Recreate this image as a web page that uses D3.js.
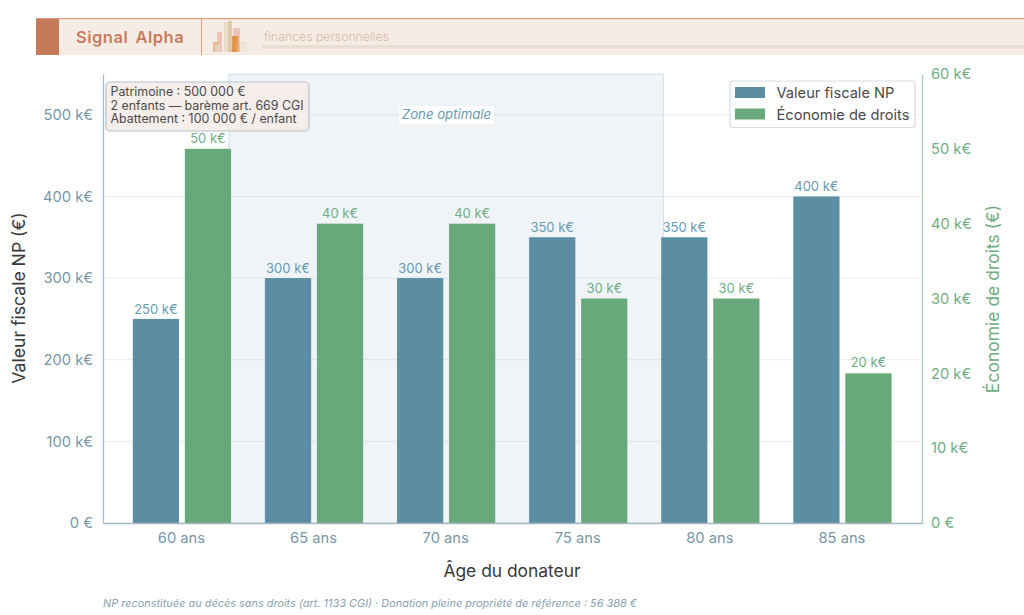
<!DOCTYPE html>
<html lang="fr">
<head>
<meta charset="utf-8">
<script src="https://cdn.jsdelivr.net/npm/d3@7/dist/d3.min.js"></script>
<style>
html,body{margin:0;padding:0;background:#fff}
svg{display:block}
text{font-family:Inter,"Noto Sans",sans-serif}
</style>
</head>
<body>
<svg id="chart" width="1024" height="615"></svg>
<script>
const ages = ["60 ans","65 ans","70 ans","75 ans","80 ans","85 ans"];
const valeurFiscale = [250,300,300,350,350,400];
const economie = [50,40,40,30,30,20];
const leftTicks = [0,100,200,300,400,500];
const rightTicks = [0,10,20,30,40,50,60];
const zoneRange = [0.355,3.645];
const infoLines = ["Patrimoine : 500 000 €","2 enfants — barème art. 669 CGI","Abattement : 100 000 € / enfant"];
const legendItems = ["Valeur fiscale NP","Économie de droits"];
const footnote = "NP reconstituée au décès sans droits (art. 1133 CGI) · Donation pleine propriété de référence : 56 388 €";
// Decorative skyline in the banner: [left, width, height, tint]
const logoBars = [
  [217,5,20,"#ecbcb2"],[213,5,10,"#e6b48c"],[215,5,7,"#e2d3bd"],[224,6,30,"#e8dac6"],[228,4,31,"#dcc5a4"],
  [233,7,24,"#eabfb4"],[232,6,16,"#e08f3f"],[236,3,10,"#e6a665"],[240,7,11,"#ece3d3"]
];

const BLUE="#5b8ea3", GREEN="#69a87b", BLUE_TXT="#7797a8", GREEN_TXT="#6fad84";
const svg=d3.select("#chart");
const M={l:103,r:922,t:74,b:523};

const x=d3.scaleLinear().domain([-0.5976,5.6024]).range([M.l,M.r]);
const xTick=d3.scaleLinear().domain([-0.59,5.61]).range([M.l,M.r]);
const yL=d3.scaleLinear().domain([0,550]).range([M.b,M.t]);
const yR=d3.scaleLinear().domain([0,60]).range([M.b,M.t]);
const barW=0.35, off=0.197;

// Banner
const banner=svg.append("g");
banner.append("rect").attr("x",36).attr("y",19).attr("width",988).attr("height",36).attr("fill","#f6ece6");
banner.append("rect").attr("x",36).attr("y",18).attr("width",988).attr("height",1.2).attr("fill","#e09a80");
banner.append("rect").attr("x",36).attr("y",19).attr("width",23).attr("height",36).attr("fill","#c47a5a");
banner.append("rect").attr("x",201).attr("y",19).attr("width",1).attr("height",36).attr("fill","#dca080");
banner.append("text").attr("x",76).attr("y",42.5).attr("font-size",16.5).attr("font-weight",600).attr("fill","#c97b5b").attr("letter-spacing",0.5).attr("word-spacing",2.5).text("Signal Alpha");
banner.selectAll("rect.logo").data(logoBars).join("rect").attr("class","logo")
  .attr("x",d=>d[0]).attr("width",d=>d[1]).attr("y",d=>52-d[2]).attr("height",d=>d[2]).attr("fill",d=>d[3]).attr("opacity",.9);
banner.append("text").attr("x",264).attr("y",41).attr("font-size",12.25).attr("font-weight",300).attr("fill","#d6b8a0").text("finances personnelles");
banner.append("rect").attr("x",262).attr("y",45).attr("width",762).attr("height",3.5).attr("fill","#eaddd2");

// Horizontal grid
svg.append("g").selectAll("line").data(leftTicks.slice(1)).join("line")
  .attr("x1",M.l).attr("x2",M.r).attr("y1",d=>yL(d)).attr("y2",d=>yL(d))
  .attr("stroke","#ebeff1").attr("stroke-width",1);

// Optimal zone band
svg.append("rect").attr("x",x(zoneRange[0])).attr("y",M.t)
  .attr("width",x(zoneRange[1])-x(zoneRange[0])).attr("height",M.b-M.t)
  .attr("fill","#5885a6").attr("fill-opacity",.09).attr("stroke","#bcd0da").attr("stroke-opacity",.6);

// Bars
svg.append("g").selectAll("rect").data(valeurFiscale).join("rect")
  .attr("x",(d,i)=>x(i-off-barW/2)).attr("width",x(barW)-x(0))
  .attr("y",d=>yL(d)).attr("height",d=>M.b-yL(d)).attr("fill",BLUE);
svg.append("g").selectAll("rect").data(economie).join("rect")
  .attr("x",(d,i)=>x(i+off-barW/2)).attr("width",x(barW)-x(0))
  .attr("y",d=>yR(d)).attr("height",d=>M.b-yR(d)).attr("fill",GREEN);

// Value labels
svg.append("g").selectAll("text").data(valeurFiscale).join("text")
  .attr("x",(d,i)=>x(i-off)).attr("y",d=>yL(d)-5).attr("text-anchor","middle")
  .attr("font-size",13).attr("fill","#689ab0").text(d=>`${d} k€`);
svg.append("g").selectAll("text").data(economie).join("text")
  .attr("x",(d,i)=>x(i+off)).attr("y",d=>yR(d)-6).attr("text-anchor","middle")
  .attr("font-size",13).attr("fill",GREEN_TXT).text(d=>`${d} k€`);

// Axes
const fmtK=d=>d===0?"0 €":`${d} k€`;
const gL=svg.append("g").attr("transform",`translate(${M.l},0)`)
  .call(d3.axisLeft(yL).tickValues(leftTicks).tickSize(0).tickPadding(10).tickFormat(fmtK));
gL.select(".domain").attr("stroke","#a9bcc8").attr("stroke-width",1.3);
gL.selectAll("text").attr("font-size",14.7).attr("fill",BLUE_TXT).style("font-family","Inter");
const gR=svg.append("g").attr("transform",`translate(${M.r},0)`)
  .call(d3.axisRight(yR).tickValues(rightTicks).tickSize(0).tickPadding(9).tickFormat(fmtK));
gR.select(".domain").attr("stroke","#a6cdb2").attr("stroke-width",1.3);
gR.selectAll("text").attr("font-size",14.7).attr("fill",GREEN_TXT).style("font-family","Inter");
const gB=svg.append("g").attr("transform",`translate(0,${M.b})`)
  .call(d3.axisBottom(xTick).tickValues(d3.range(ages.length)).tickSize(0).tickPadding(10).tickFormat(i=>ages[i]));
gB.select(".domain").attr("stroke","#a4b8c4").attr("stroke-width",1.3);
gB.selectAll("text").attr("font-size",14.7).attr("fill",BLUE_TXT).style("font-family","Inter");

// Axis titles
svg.append("text").attr("x",512).attr("y",577).attr("text-anchor","middle").attr("font-size",17.4).attr("fill","#3a3a3a").text("Âge du donateur");
svg.append("text").attr("transform","translate(25,298) rotate(-90)").attr("text-anchor","middle").attr("font-size",17.6).attr("fill","#3a3a3a").text("Valeur fiscale NP (€)");
svg.append("text").attr("transform","translate(999,299) rotate(-90)").attr("text-anchor","middle").attr("font-size",17.5).attr("fill",GREEN_TXT).text("Économie de droits (€)");

// Zone label
svg.append("rect").attr("x",399).attr("y",106).attr("width",95).attr("height",18).attr("fill","#fff").attr("fill-opacity",.9).attr("rx",1);
svg.append("text").attr("x",446.5).attr("y",119).attr("text-anchor","middle").attr("font-size",13.2).attr("font-style","italic").attr("fill","#689ab0").text("Zone optimale");

// Info box
svg.append("rect").attr("x",106).attr("y",82).attr("width",203).attr("height",49).attr("rx",4)
  .attr("fill","#f5ece7").attr("fill-opacity",.88).attr("stroke","#b4c3cd").attr("stroke-width",1.2);
svg.append("g").selectAll("text").data(infoLines).join("text")
  .attr("x",110.5).attr("y",(d,i)=>96+i*13.7).attr("font-size",12.4).attr("fill","#4a4a4a").text(d=>d);

// Legend
svg.append("rect").attr("x",730).attr("y",81).attr("width",185).attr("height",46.5).attr("rx",3)
  .attr("fill","#fff").attr("fill-opacity",.9).attr("stroke","#d5dde3").attr("stroke-width",1.2);
const legendColors=[BLUE,GREEN];
const lg=svg.append("g").selectAll("g").data(legendItems).join("g")
  .attr("transform",(d,i)=>`translate(735,${87+i*21.5})`);
lg.append("rect").attr("width",30).attr("height",11).attr("fill",(d,i)=>legendColors[i]);
lg.append("text").attr("x",41.5).attr("y",11).attr("font-size",14.65).attr("fill","#4a4a4a").text(d=>d);

// Footnote
svg.append("text").attr("x",103).attr("y",607).attr("font-size",10.93).attr("font-style","italic").attr("fill","#8ba3b1").text(footnote);
</script>
</body>
</html>
